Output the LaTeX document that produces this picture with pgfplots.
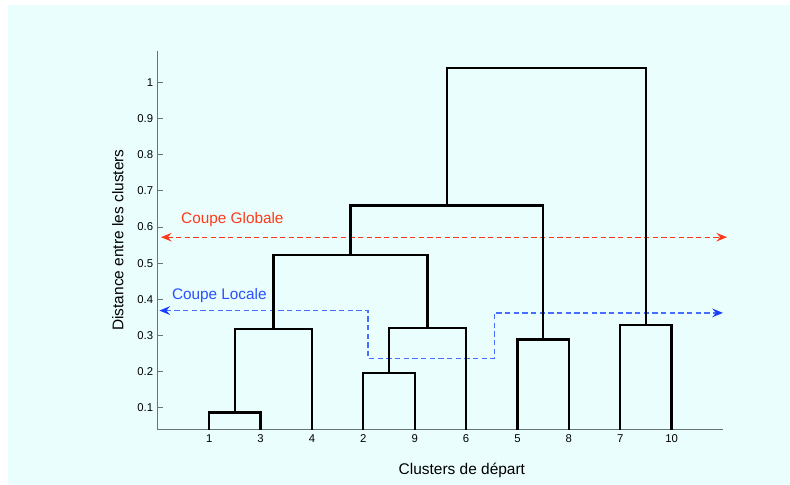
\documentclass[border=0pt]{standalone}
\usepackage{fontspec}
\setmainfont{Liberation Sans}
\usepackage{pgfplots}
\pgfplotsset{compat=1.18}
\usetikzlibrary{arrows.meta}
\definecolor{bg}{RGB}{235,254,254}
\definecolor{cutred}{RGB}{255,58,26}
\definecolor{cutblue}{RGB}{70,110,255}
\definecolor{tipblue}{RGB}{25,60,255}
\definecolor{textblue}{RGB}{40,80,255}
\definecolor{axgray}{RGB}{105,115,120}
\begin{document}
\begin{tikzpicture}
\path (0,0) rectangle (592.5pt,363.75pt);
\fill[bg] (6pt,0) rectangle (592.5pt,360pt);
\begin{axis}[
  at={(118.4pt,41.6pt)}, anchor=south west,
  scale only axis, width=423.8pt, height=283.9pt,
  xmin=0, xmax=11, ymin=0.04, ymax=1.087,
  axis lines*=left,
  axis line style={axgray, line width=0.7pt},
  xtick={1,2,3,4,5,6,7,8,9,10},
  xticklabels={1,3,4,2,9,6,5,8,7,10},
  ytick={0.1,0.2,0.3,0.4,0.5,0.6,0.7,0.8,0.9,1.0},
  yticklabels={0.1,0.2,0.3,0.4,0.5,0.6,0.7,0.8,0.9,1},
  tick align=inside, major tick length=3.5pt,
  xtick style={draw=none}, ytick style={axgray, line width=0.7pt},
  tick label style={font=\fontsize{8.5}{10}\selectfont},
  xticklabel style={yshift=-0.5pt},
  xlabel={Clusters de départ},
  ylabel={Distance entre les clusters},
  xlabel style={at={(axis description cs:0.538,-0.107)}, anchor=center, font=\fontsize{11.6}{13}\selectfont},
  ylabel style={at={(axis description cs:-0.0706,0.5007)}, anchor=center, font=\fontsize{11.6}{13}\selectfont},
  clip=false,
]
% cuts
\addplot[cutred, line width=1pt, dash pattern=on 4pt off 2.5pt,
  arrows={Stealth[length=8pt,width=6.5pt,inset=2.8pt]-Stealth[length=8pt,width=6.5pt,inset=2.8pt]}]
  coordinates {(0.06,0.572) (11.08,0.572)};
\addplot[cutblue, line width=1.2pt, dash pattern=on 4pt off 2.5pt,
  arrows={Stealth[length=8pt,width=6.5pt,inset=2.8pt,color=tipblue]-Stealth[length=8pt,width=6.5pt,inset=2.8pt,color=tipblue]}]
  coordinates {(0.03,0.369) (4.09,0.369) (4.09,0.236) (6.55,0.236) (6.55,0.3626) (11.0,0.3626)};
% dendrogram
\addplot[black, line width=1.7pt, line join=miter] coordinates {(1,0.04) (1,0.087) (2,0.087) (2,0.04)};
\addplot[black, line width=1.7pt, line join=miter] coordinates {(1.5,0.087) (1.5,0.319) (3,0.319) (3,0.04)};
\addplot[black, line width=1.7pt, line join=miter] coordinates {(4,0.04) (4,0.197) (5,0.197) (5,0.04)};
\addplot[black, line width=1.7pt, line join=miter] coordinates {(4.5,0.197) (4.5,0.320) (6,0.320) (6,0.04)};
\addplot[black, line width=1.7pt, line join=miter] coordinates {(2.25,0.319) (2.25,0.522) (5.25,0.522) (5.25,0.320)};
\addplot[black, line width=1.7pt, line join=miter] coordinates {(7,0.04) (7,0.289) (8,0.289) (8,0.04)};
\addplot[black, line width=1.7pt, line join=miter] coordinates {(3.75,0.522) (3.75,0.660) (7.5,0.660) (7.5,0.289)};
\addplot[black, line width=1.7pt, line join=miter] coordinates {(9,0.04) (9,0.329) (10,0.329) (10,0.04)};
\addplot[black, line width=1.7pt, line join=miter] coordinates {(5.625,0.660) (5.625,1.039) (9.5,1.039) (9.5,0.329)};
% cut labels
\node[anchor=west, text=cutred, font=\fontsize{11.5}{13}\selectfont, inner sep=0pt] at (axis cs:0.45,0.622) {Coupe Globale};
\node[anchor=west, text=textblue, font=\fontsize{11.5}{13}\selectfont, inner sep=0pt] at (axis cs:0.27,0.411) {Coupe Locale};
\end{axis}
\end{tikzpicture}
\end{document}
